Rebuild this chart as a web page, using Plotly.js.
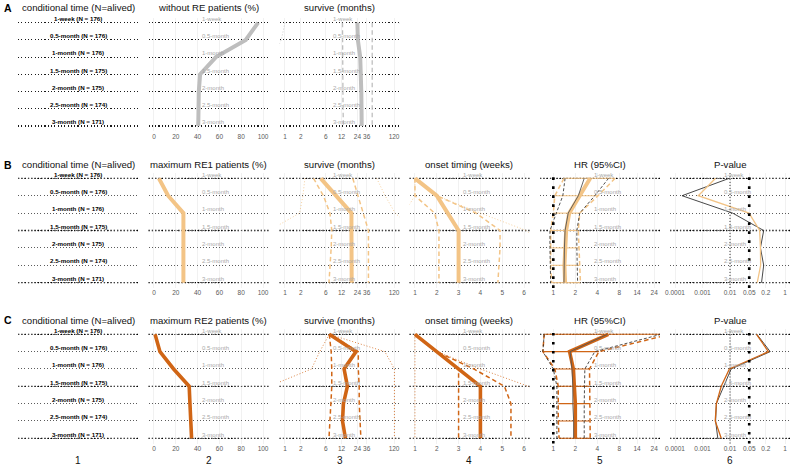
<!DOCTYPE html>
<html><head><meta charset="utf-8">
<script src="https://cdn.plot.ly/plotly-3.0.1.min.js"></script>
<style>html,body{margin:0;padding:0;background:#fff}#chart{width:790px;height:467px}</style>
</head><body><div id="chart"></div>
<script>
// ---------------- data ----------------
const categories = ["1-week","0.5-month","1-month","1.5-month","2-month","2.5-month","3-month"];
const emphasized = ["1-week","1.5-month","3-month"];
const aliveN = [176,176,176,175,175,174,171];

const titlesA = ["conditional time (N=alived)","without RE patients (%)","survive (months)"];
const titlesB = ["conditional time (N=alived)","maximum RE1 patients (%)","survive (months)","onset timing (weeks)","HR (95%CI)","P-value"];
const titlesC = ["conditional time (N=alived)","maximum RE2 patients (%)","survive (months)","onset timing (weeks)","HR (95%CI)","P-value"];
const columnNumbers = ["1","2","3","4","5","6"];
const rowLetters = ["A","B","C"];

const pctTicks = [0,20,40,60,80,100];
const survTicks = [1,2,6,12,24,36,120];
const onsetTicks = [1,2,3,4,5,6];
const hrTicks = [1,2,4,8,14,24];
const pTicks = [0.0001,0.001,0.01,0.05,0.2,1];
const pTickText = ["0.0001","0.001","0.01","0.05","0.2","1"];
const hrRef = 1;
const pRefStrong = 0.05;
const pRefWeak = 0.01;

// Row A
const A_pct      = [95.5, 84.1, 56.8, 42.3, 41.1, 40.6, 40.6];
const A_surv     = [24, 24.5, 27.2, 28.2, 28.5, 28.8, 29];
const A_survLow  = [12.5, 12.5, 12.5, 12.5, 12.5, 12.8, 13];
const A_survUp   = [46, 46, 46, 46, 46, 46, 46];
const A_survMin  = [1.0, 0.85, 0.6, 0.5, 0.5, 0.5, 0.5];
const A_survMax  = [150, 220, 260, 260, 260, 260, 260];

// Row B (RE1)
const B_pct      = [4.5, 13, 27, 27, 27, 27, 27];
const B_surv     = [4.8, 9.5, 18.5, 18.5, 18.7, 18.7, 18.7];
const B_survLow  = [3.5, 5.4, 7.2, 7.8, 7.6, 7.2, 6.9];
const B_survUp   = [19.6, 25, 31, 39, 39.5, 39, 39];
const B_survMin  = [2.4, 2.2, 1.9, 0.5, 0.5, 0.5, 0.5];
const B_survMax  = [56, 81, 126, 300, 300, 300, 300];
const B_onset    = [1, 2, 2.5, 3, 3, 3, 3];
const B_onsetLow = [1, 1, 1.9, 2.1, 2.1, 2.1, 2.1];
const B_onsetUp  = [1, 2, 3.8, 4.9, 4.9, 4.85, 4.8];
const B_onsetMin = [1, 1, 0.5, 0.5, 0.5, 0.5, 0.5];
const B_onsetMax = [1, 2, 4, 6.1, 7, 7, 7];
const B_hr       = [3.2, 2.3, 1.65, 1.5, 1.45, 1.42, 1.45];
const B_hrLow    = [1.4, 1.05, 1.0, 0.92, 0.92, 0.92, 0.95];
const B_hrUp     = [7, 4.1, 2.3, 2.2, 2.25, 2.3, 2.35];
const B_hrAdj    = [2.65, 2.2, 1.6, 1.45, 1.42, 1.4, 1.4];
const B_hrAdjLow = [1.45, 1.35, 1.1, 0.9, 0.9, 0.9, 0.92];
const B_hrAdjUp  = [5.7, 3.7, 2.3, 2.1, 2.1, 2.15, 2.15];
const B_p        = [0.003, 0.0007, 0.049, 0.12, 0.128, 0.13, 0.098];
const B_pAdj     = [0.0094, 0.00018, 0.0125, 0.168, 0.128, 0.168, 0.14];

// Row C (RE2)
const C_pct      = [1, 5.5, 18, 32.3, 33, 33.5, 34.5];
const C_surv     = [7, 22.6, 13.4, 15.5, 13, 12.5, 14.2];
const C_survLow  = [7, 7.6, 7.8, 7.8, 7.5, 7.2, 6.9];
const C_survUp   = [7, 25, 25, 26, 26, 27, 28];
const C_survMin  = [7, 4.6, 3.2, 0.5, 0.5, 0.5, 0.5];
const C_survMax  = [7, 80, 122, 122, 122, 122, 122];
const C_onset    = [1, 2, 3, 4, 4, 4, 4];
const C_onsetLow = [1, 2, 3, 3, 3, 3, 3];
const C_onsetUp  = [1, 2, 3.7, 5.1, 5.4, 5.4, 5.4];
const C_onsetMin = [1, 1, 1, 1, 1, 1, 1];
const C_onsetMax = [1, 2, 4, 6.2, 7, 7, 7];
const C_hr       = [5.66, 1.67, 1.88, 1.94, 2, 2, 2];
const C_hrLow    = [0.75, 0.72, 1.05, 1.17, 1.17, 1.17, 1.2];
const C_hrUp     = [40, 4.2, 3.13, 3.13, 3.17, 3.17, 3.2];
const C_hrAdj    = [5.5, 1.7, 1.8, 1.85, 1.85, 1.9, 1.9];
const C_hrAdjLow = [0.75, 0.72, 1.0, 1.12, 1.12, 1.12, 1.12];
const C_hrAdjUp  = [30, 3.7, 2.7, 2.65, 2.65, 2.65, 2.65];
const C_p        = [0.092, 0.25, 0.0095, 0.0048, 0.0032, 0.0029, 0.0048];
const C_pAdj     = [0.095, 0.29, 0.011, 0.006, 0.0032, 0.003, 0.0036];

// ---------------- styling / layout ----------------
const W = 790, H = 467;
const FONT = "Liberation Sans, Arial, sans-serif";
const GREY = "#BEBEBE", LIGHT = "#F3C486", DARK = "#D06515";
const colX = [[18,138],[148.5,268.5],[279.5,399.5],[409.5,529.5],[540,660],[670,790]];
const rowY = [[17.5,131.2],[173.1,287.9],[329.1,443.5]];
const titleY = [7.5, 164.5, 320];
const numberY = 460;

const layout = {
  width: W, height: H, margin: {l:0,r:0,t:0,b:0},
  paper_bgcolor: "#fff", plot_bgcolor: "rgba(0,0,0,0)",
  showlegend: false, font: {family: FONT},
  annotations: [], shapes: []
};
const traces = [];
let nAx = 0;

const xKinds = {
  label: {range:[0,1], showgrid:false, showticklabels:false},
  pct:   {type:"linear", range:[-5,105], tickvals:pctTicks},
  surv:  {type:"log", range:[-0.104,2.183], tickvals:survTicks, ticktext:survTicks.map(String)},
  onset: {type:"linear", range:[0.75,6.25], tickvals:onsetTicks},
  hr:    {type:"log", range:[-0.182,1.46], tickvals:hrTicks, ticktext:hrTicks.map(String)},
  p:     {type:"log", range:[-4.182,0.182], tickvals:pTicks, ticktext:pTickText}
};

function panel(row, col, kind) {
  nAx++;
  const s = nAx === 1 ? "" : String(nAx);
  const [x0,x1] = colX[col];
  const [yt,yb] = rowY[row];
  const strongRow = row === 0;
  layout["xaxis"+s] = Object.assign({
    domain:[x0/W, x1/W], anchor:"y"+s, zeroline:false, showline:false, ticks:"", tickangle:0,
    showgrid:true, gridcolor:"#EBEBEB", gridwidth:0.7,
    tickfont:{size:6.5, color:"#5A5A5A", family:FONT}, tickmode:"array", fixedrange:true
  }, xKinds[kind]);
  layout["yaxis"+s] = {
    domain:[1-yb/H, 1-yt/H], anchor:"x"+s, type:"category",
    categoryorder:"array", categoryarray:categories, range:[6.3,-0.3],
    showticklabels:false, ticks:"", zeroline:false, showline:false,
    showgrid:true, gridcolor: strongRow ? "#1a1a1a" : "#4a4a4a", gridwidth: strongRow ? 1.1 : 0.9,
    griddash: strongRow ? "1.1px,2.2px" : "1px,2.2px", fixedrange:true
  };
  const p = {xa:"x"+s, ya:"y"+s, s:s};
  if (!strongRow) {
    emphasized.forEach(c => layout.shapes.push({type:"line", xref:p.xa+" domain", x0:0, x1:1, yref:p.ya, y0:c, y1:c,
      line:{color:"#000", width:1.3, dash:"1.3px,2px"}, layer:"below"}));
  }
  if (kind !== "label") {
    categories.forEach(c => layout.annotations.push({
      xref:p.xa+" domain", x:0.43, xanchor:"left", yref:p.ya, y:c, yanchor:"middle", yshift:3.8,
      text:c, showarrow:false, font:{size:6, color:"#A8A8A8", family:FONT}
    }));
  }
  return p;
}

function ln(p, xs, color, width, dash) {
  traces.push({type:"scatter", mode:"lines", x:xs, y:categories, xaxis:p.xa, yaxis:p.ya,
    line:{color:color, width:width, dash:dash||"solid"}, hoverinfo:"skip", showlegend:false});
}
function errbars(p, mid, low, up, color) {
  traces.push({type:"scatter", mode:"markers", x:mid, y:categories, xaxis:p.xa, yaxis:p.ya,
    marker:{size:1, color:"rgba(0,0,0,0)"}, hoverinfo:"skip", showlegend:false,
    error_x:{type:"data", symmetric:false, array:up.map((u,i)=>u-mid[i]), arrayminus:low.map((l,i)=>mid[i]-l),
      color:color, thickness:1.1, width:0}});
}
function labelPanel(p) {
  // invisible anchor so the category axis knows its rows
  traces.push({type:"scatter", mode:"markers", x:categories.map(()=>0.5), y:categories, xaxis:p.xa, yaxis:p.ya,
    marker:{size:1, color:"rgba(0,0,0,0)"}, hoverinfo:"skip", showlegend:false});
  categories.forEach((c,i) => layout.annotations.push({
    xref:p.xa+" domain", x:0.5, xanchor:"center", yref:p.ya, y:c, yanchor:"middle", yshift:4.3,
    text:"<b>"+c+" (N = "+aliveN[i]+")</b>", showarrow:false, font:{size:6.2, color:"#000", family:FONT}
  }));
}
function vref(p, xv, width, dash, color) {
  layout.shapes.push({type:"line", xref:p.xa, x0:xv, x1:xv, yref:p.ya+" domain", y0:0, y1:1,
    line:{color:color, width:width, dash:dash}, layer:"above"});
}
const DASH = "4.5px,3px", DOT = "1px,2px";

// ---- Row A ----
let p = panel(0,0,"label"); labelPanel(p);
p = panel(0,1,"pct"); ln(p, A_pct, GREY, 4);
p = panel(0,2,"surv");
ln(p, A_survMin, GREY, 0.8, DOT); ln(p, A_survMax, GREY, 0.8, DOT);
ln(p, A_survLow, GREY, 1.3, DASH); ln(p, A_survUp, GREY, 1.3, DASH);
ln(p, A_surv, GREY, 4);

// ---- Rows B & C ----
function fullRow(row, d, col) {
  let q = panel(row,0,"label"); labelPanel(q);
  q = panel(row,1,"pct"); ln(q, d.pct, col, row===1?4:3.6);
  q = panel(row,2,"surv");
  ln(q, d.survMin, col, 0.8, DOT); ln(q, d.survMax, col, 0.8, DOT);
  ln(q, d.survLow, col, 1.5, DASH); ln(q, d.survUp, col, 1.5, DASH);
  ln(q, d.surv, col, row===1?4:3.6);
  q = panel(row,3,"onset");
  ln(q, d.onsetMin, col, 0.8, DOT); ln(q, d.onsetMax, col, 0.8, DOT);
  ln(q, d.onsetLow, col, 1.5, DASH); ln(q, d.onsetUp, col, 1.5, DASH);
  ln(q, d.onset, col, row===1?4:3.6);
  q = panel(row,4,"hr");
  errbars(q, d.hr, d.hrLow, d.hrUp, col);
  ln(q, d.hrLow, col, 1.5, DASH); ln(q, d.hrUp, col, 1.5, DASH);
  ln(q, d.hrAdjLow, "#222", 0.8, "3px,2px"); ln(q, d.hrAdjUp, "#222", 0.8, "3px,2px");
  ln(q, d.hr, col, row===1?4:3.6);
  ln(q, d.hrAdj, "#555", 0.9);
  vref(q, hrRef, 2.6, "2.6px,6.4px", "#000");
  q = panel(row,5,"p");
  ln(q, d.pAdj, "#333", 0.9);
  ln(q, d.p, col, 1.3);
  vref(q, pRefStrong, 2.6, "2.6px,6.4px", "#000");
  vref(q, pRefWeak, 1, "1px,2px", "#222");
}
fullRow(1, {pct:B_pct, surv:B_surv, survLow:B_survLow, survUp:B_survUp, survMin:B_survMin, survMax:B_survMax,
  onset:B_onset, onsetLow:B_onsetLow, onsetUp:B_onsetUp, onsetMin:B_onsetMin, onsetMax:B_onsetMax,
  hr:B_hr, hrLow:B_hrLow, hrUp:B_hrUp, hrAdj:B_hrAdj, hrAdjLow:B_hrAdjLow, hrAdjUp:B_hrAdjUp, p:B_p, pAdj:B_pAdj}, LIGHT);
fullRow(2, {pct:C_pct, surv:C_surv, survLow:C_survLow, survUp:C_survUp, survMin:C_survMin, survMax:C_survMax,
  onset:C_onset, onsetLow:C_onsetLow, onsetUp:C_onsetUp, onsetMin:C_onsetMin, onsetMax:C_onsetMax,
  hr:C_hr, hrLow:C_hrLow, hrUp:C_hrUp, hrAdj:C_hrAdj, hrAdjLow:C_hrAdjLow, hrAdjUp:C_hrAdjUp, p:C_p, pAdj:C_pAdj}, DARK);

// ---- titles, letters, numbers ----
function colCenter(i){ return (colX[i][0]+colX[i][1])/2/W; }
[titlesA, titlesB, titlesC].forEach((ts, r) => {
  ts.forEach((t, i) => layout.annotations.push({xref:"paper", yref:"paper", x:colCenter(i), y:1-titleY[r]/H,
    xanchor:"center", yanchor:"middle", text:t, showarrow:false, font:{size:9.6, color:"#111", family:FONT}}));
  layout.annotations.push({xref:"paper", yref:"paper", x:2/W, y:1-titleY[r]/H, xanchor:"left", yanchor:"middle",
    text:"<b>"+rowLetters[r]+"</b>", showarrow:false, font:{size:10.5, color:"#000", family:FONT}});
});
columnNumbers.forEach((t, i) => layout.annotations.push({xref:"paper", yref:"paper", x:colCenter(i), y:1-numberY/H,
  xanchor:"center", yanchor:"middle", text:t, showarrow:false, font:{size:10, color:"#111", family:FONT}}));

Plotly.newPlot("chart", traces, layout, {staticPlot:true, displayModeBar:false});
</script></body></html>
